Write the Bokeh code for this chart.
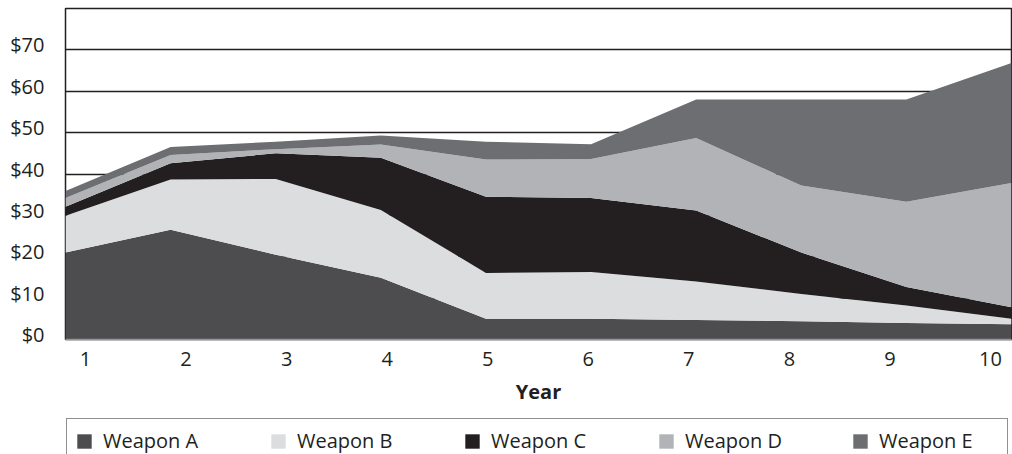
from bokeh.plotting import figure
from bokeh.layouts import column
from bokeh.models import (Range1d, LinearAxis, FixedTicker, Grid, Legend, LegendItem,
                          PrintfTickFormatter, ColumnDataSource)
from bokeh.embed import file_html
from bokeh.resources import INLINE

years = [1, 2, 3, 4, 5, 6, 7, 8, 9, 10]
weapon_a = [21.0, 26.5, 20.5, 14.9, 5.0, 5.0, 4.7, 4.4, 4.0, 3.7]
weapon_b = [8.9, 12.2, 18.3, 16.4, 11.1, 11.3, 9.3, 6.6, 4.2, 1.3]
weapon_c = [2.2, 3.9, 6.2, 12.6, 18.4, 17.9, 17.2, 10.0, 4.5, 2.8]
weapon_d = [2.1, 2.0, 1.0, 3.2, 9.0, 9.4, 17.5, 16.2, 20.6, 30.0]
weapon_e = [1.7, 1.9, 1.8, 2.2, 4.3, 3.6, 9.3, 20.8, 24.7, 29.0]
series_names = ["Weapon A", "Weapon B", "Weapon C", "Weapon D", "Weapon E"]
y_ticks = [0, 10, 20, 30, 40, 50, 60, 70]

colors = ["#4d4d4f", "#dcdddf", "#231f20", "#b1b3b6", "#6d6e71"]
FONT = "Open Sans"
INK = "#231f20"
STACK = ["a", "b", "c", "d", "e"]

source = ColumnDataSource(dict(year=years, a=weapon_a, b=weapon_b, c=weapon_c,
                               d=weapon_d, e=weapon_e))

# ---------------- main chart ----------------
p = figure(width=1012, height=414, x_range=Range1d(1, 10), y_range=Range1d(0, 80),
           output_backend="svg", toolbar_location=None,
           x_axis_location=None, y_axis_location=None,
           min_border_left=65, min_border_right=1, min_border_top=8, min_border_bottom=75)
p.xgrid.visible = False
p.ygrid.visible = False
p.outline_line_color = INK
p.outline_line_width = 1.5
p.background_fill_color = "white"

p.extra_x_ranges = {"xl": Range1d(0.801, 10.209)}
p.extra_y_ranges = {"yl": Range1d(-1.2, 78.8)}

grid = Grid(dimension=1, ticker=FixedTicker(ticks=y_ticks[1:]),
            grid_line_color=INK, grid_line_width=1.6)
p.add_layout(grid)

p.varea_stack(stackers=STACK, x="year", color=colors, source=source)

xaxis = LinearAxis(x_range_name="xl", ticker=FixedTicker(ticks=years), axis_label="Year")
xaxis.axis_line_color = "#939598"
xaxis.axis_line_width = 1.5
xaxis.major_tick_line_color = None
xaxis.minor_tick_line_color = None
xaxis.major_tick_out = 0
xaxis.major_tick_in = 0
xaxis.major_label_standoff = 12
xaxis.major_label_text_font = FONT
xaxis.major_label_text_font_size = "20px"
xaxis.major_label_text_color = INK
xaxis.axis_label_text_font = FONT
xaxis.axis_label_text_font_size = "20px"
xaxis.axis_label_text_font_style = "bold"
xaxis.axis_label_text_color = INK
xaxis.axis_label_standoff = 9
p.add_layout(xaxis, "below")

yaxis = LinearAxis(y_range_name="yl", ticker=FixedTicker(ticks=y_ticks),
                   formatter=PrintfTickFormatter(format="$%d"))
yaxis.axis_line_color = None
yaxis.major_tick_line_color = None
yaxis.minor_tick_line_color = None
yaxis.major_tick_out = 0
yaxis.major_tick_in = 0
yaxis.major_label_standoff = 21
yaxis.major_label_text_font = FONT
yaxis.major_label_text_font_size = "20px"
yaxis.major_label_text_color = INK
p.add_layout(yaxis, "left")

# ---------------- legend strip ----------------
p2 = figure(width=1012, height=40, x_range=Range1d(100, 101), y_range=Range1d(0, 1),
            output_backend="svg", toolbar_location=None,
            x_axis_location=None, y_axis_location=None,
            min_border_left=0, min_border_right=0, min_border_top=0, min_border_bottom=0)
p2.xgrid.visible = False
p2.ygrid.visible = False
p2.outline_line_color = None
legend_renderers = p2.varea_stack(stackers=STACK, x="year", color=colors, source=source)

legend = Legend(items=[LegendItem(label=n, renderers=[r])
                       for n, r in zip(series_names, legend_renderers)],
                orientation="horizontal", location=(1, -9),
                label_text_font=FONT, label_text_font_size="20px", label_text_color=INK,
                glyph_width=18, glyph_height=18, label_standoff=10, label_width=120,
                spacing=46, padding=8, margin=0,
                border_line_color=INK, border_line_width=1.5,
                background_fill_color="white", background_fill_alpha=1)
p2.add_layout(legend)

layout = column(p, p2, spacing=0)
open("out.html", "w").write(file_html(layout, INLINE))
